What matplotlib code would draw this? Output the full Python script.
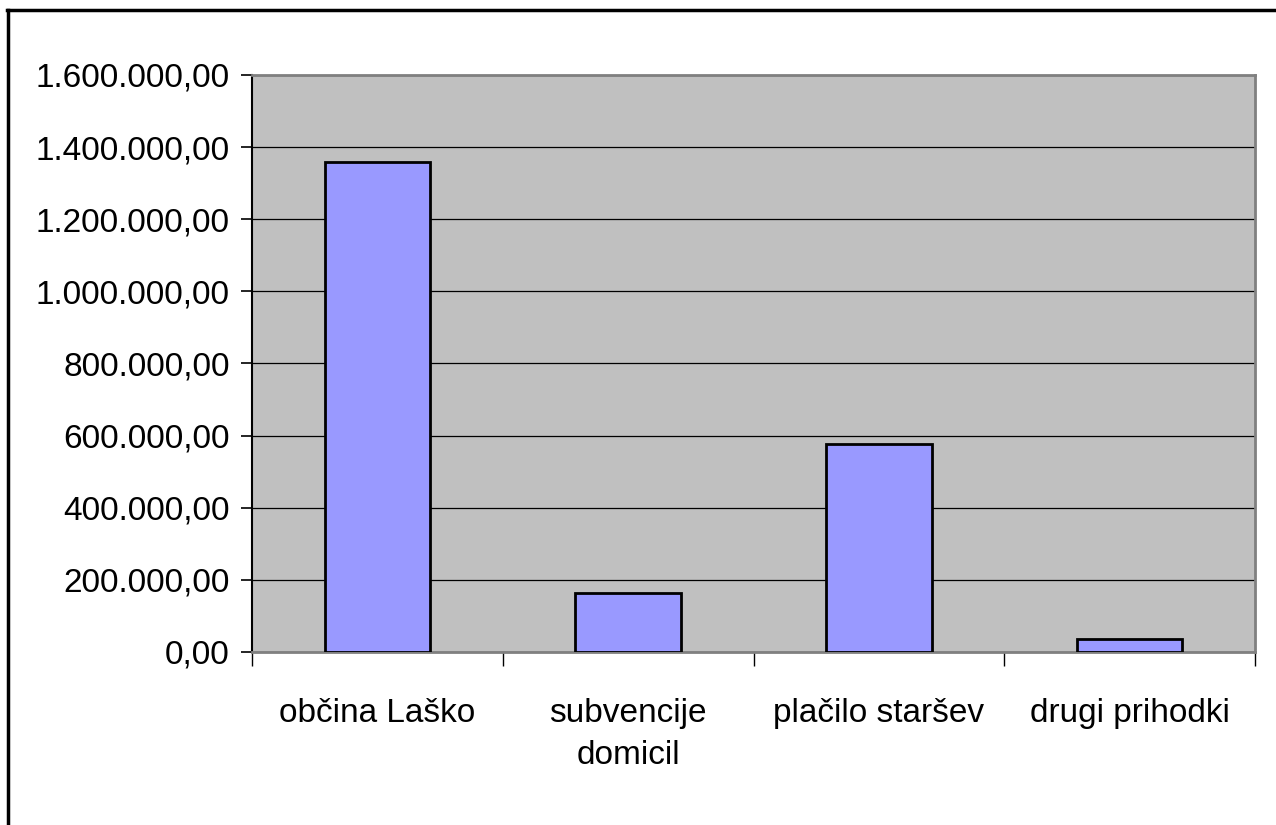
import matplotlib
matplotlib.use('Agg')
import matplotlib.pyplot as plt
from matplotlib.lines import Line2D
from matplotlib.ticker import FuncFormatter, MultipleLocator

# === DATA ===
kategorije = ['občina Laško', 'subvencije\ndomicil', 'plačilo staršev', 'drugi prihodki']
vrednosti = [1359600, 162800, 576000, 35200]

plt.rcParams['font.family'] = ['Liberation Sans', 'DejaVu Sans']


def fmt_si(v, pos):
    s = f'{v:,.2f}'
    return s.replace(',', 'X').replace('.', ',').replace('X', '.')


fig = plt.figure(figsize=(12.76, 8.25), dpi=100)
ax = fig.add_axes([252 / 1276, 1 - 652 / 825, (1255 - 252) / 1276, (652 - 75) / 825])
ax.set_facecolor('#C0C0C0')

x = list(range(len(kategorije)))
ax.bar(x, vrednosti, width=0.42, color='#9999FF', edgecolor='black', linewidth=2, zorder=3)

ax.set_xlim(-0.5, len(kategorije) - 0.5)
ax.set_ylim(0, 1600000)
ax.yaxis.set_major_locator(MultipleLocator(200000))
ax.yaxis.set_major_formatter(FuncFormatter(fmt_si))
ax.grid(axis='y', color='black', linewidth=0.9, zorder=1)

# kategorije: oznake na sredini, kljukice na mejah
ax.set_xticks(x)
ax.set_xticklabels(kategorije, fontsize=24, linespacing=1.45)
ax.set_xticks([i - 0.5 for i in range(len(kategorije) + 1)], minor=True)
ax.tick_params(axis='x', which='major', length=0, pad=33)
ax.tick_params(axis='x', which='minor', length=10, width=1, color='black')
ax.tick_params(axis='y', labelsize=24, length=8, width=1.2, pad=8)

ax.spines['left'].set_color('black')
ax.spines['left'].set_linewidth(1.5)
for s in ['top', 'right', 'bottom']:
    ax.spines[s].set_color('#808080')
    ax.spines[s].set_linewidth(2)

# okvir grafikona (levo in zgoraj)
fig.add_artist(Line2D([8 / 1276, 8 / 1276], [0, 1 - 10 / 825], transform=fig.transFigure,
                      color='black', linewidth=2.5))
fig.add_artist(Line2D([7 / 1276, 1], [1 - 10 / 825, 1 - 10 / 825], transform=fig.transFigure,
                      color='black', linewidth=2.5))

fig.savefig('out.png', dpi=100)
